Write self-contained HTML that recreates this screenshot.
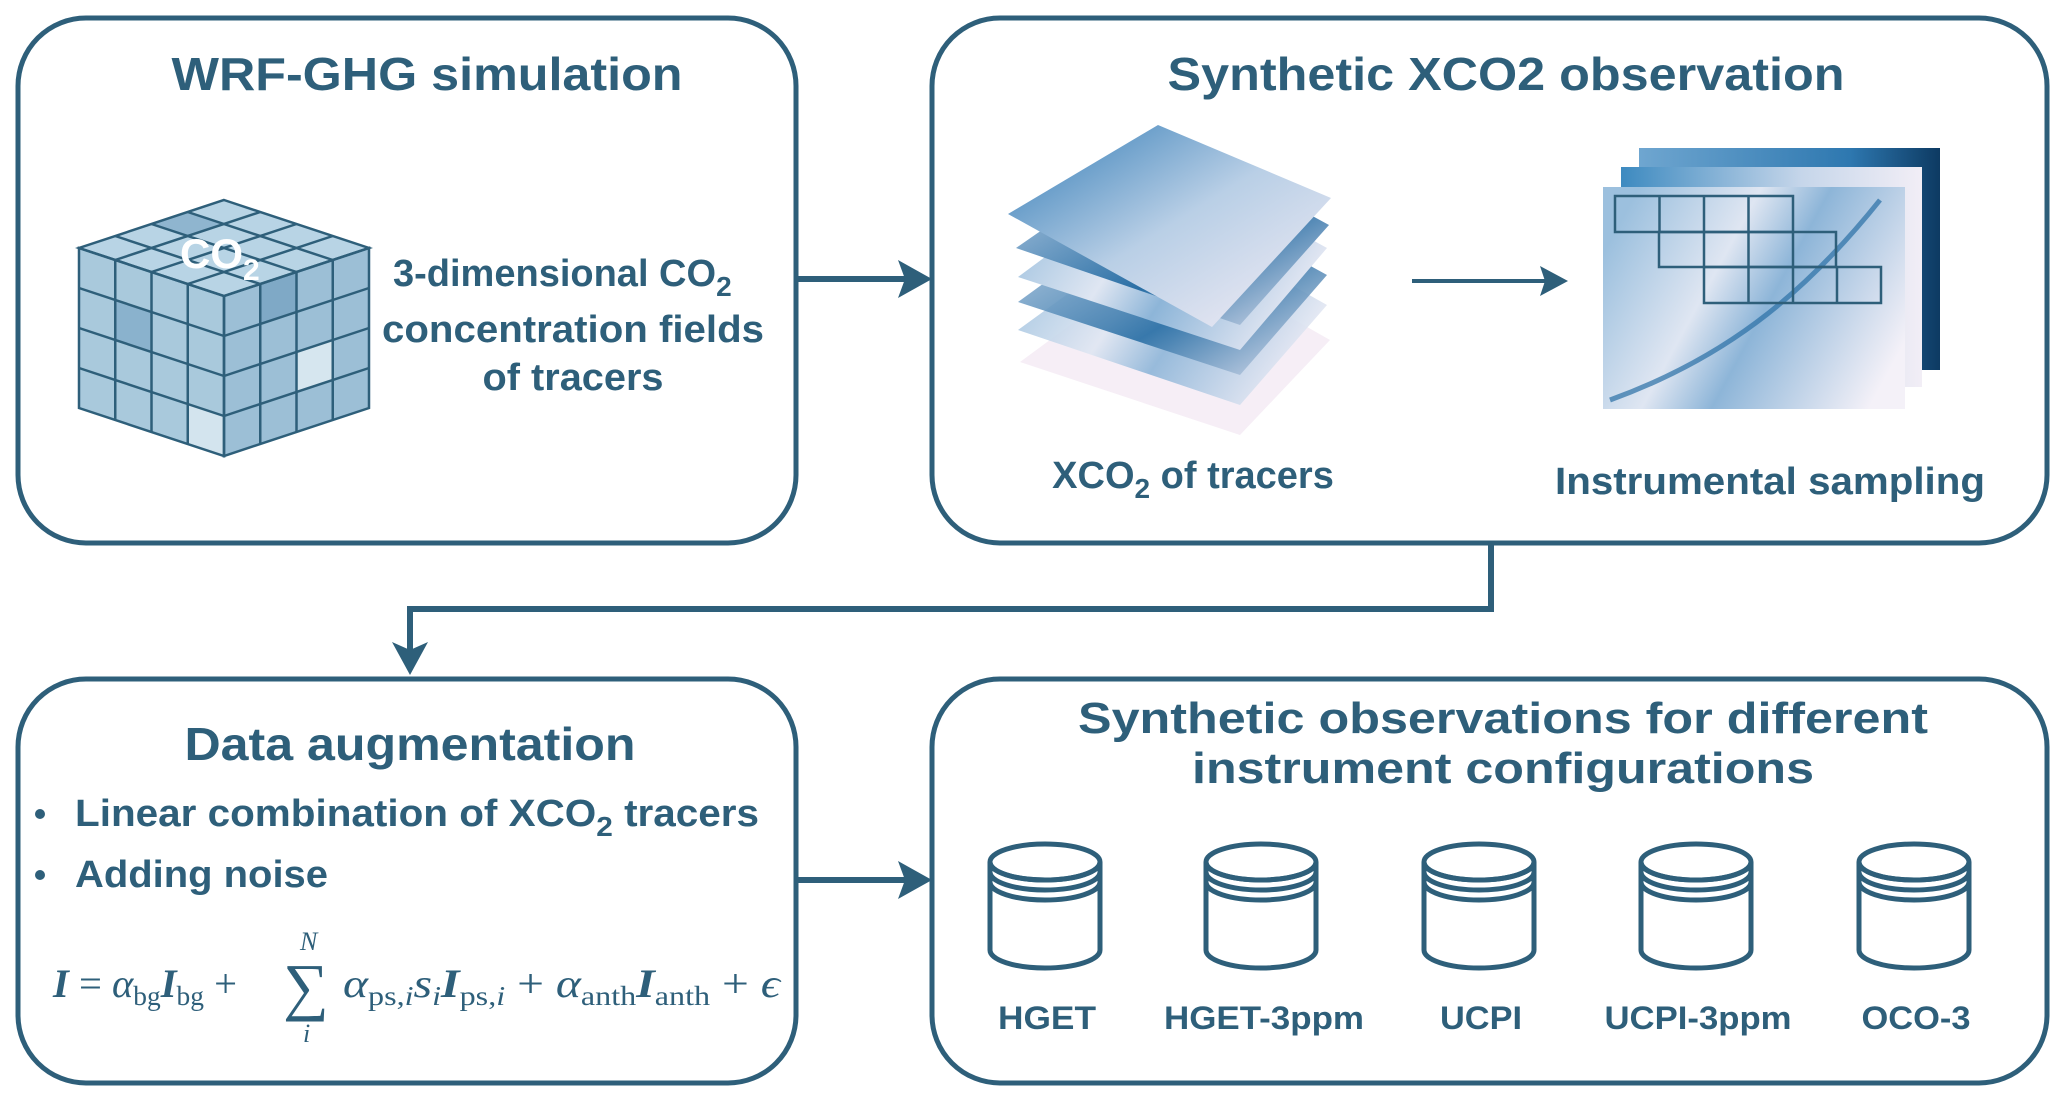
<!DOCTYPE html>
<html><head><meta charset="utf-8"><style>
html,body{margin:0;padding:0;background:#fff;}
svg{display:block;}
text{font-family:"Liberation Sans",sans-serif;font-weight:bold;fill:#2e5f7a;}
.m{font-family:"Liberation Serif",serif;font-weight:normal;fill:#2e5f7a;}
</style></head><body>
<svg width="2067" height="1103" viewBox="0 0 2067 1103" xmlns="http://www.w3.org/2000/svg">
<defs>
<linearGradient id="g1" x1="0" y1="0" x2="1" y2="1"><stop offset="0" stop-color="#2f7ab5"/><stop offset="0.5" stop-color="#b9cfe6"/><stop offset="1" stop-color="#f5eef6"/></linearGradient>
<linearGradient id="g2" x1="0" y1="0" x2="1" y2="1"><stop offset="0" stop-color="#c9d9ec"/><stop offset="0.6" stop-color="#2a6fa5"/><stop offset="1" stop-color="#e8e6f2"/></linearGradient>
<linearGradient id="g3" x1="0" y1="0" x2="1" y2="0"><stop offset="0" stop-color="#6fa6d0"/><stop offset="0.7" stop-color="#2e78b0"/><stop offset="1" stop-color="#0d3a62"/></linearGradient>
<linearGradient id="g4" x1="0" y1="0" x2="1" y2="0"><stop offset="0" stop-color="#3d8ac0"/><stop offset="0.6" stop-color="#c6d6ea"/><stop offset="1" stop-color="#f2eef6"/></linearGradient>
<linearGradient id="g5" x1="0" y1="0.3" x2="1" y2="0.7"><stop offset="0" stop-color="#9cc0de"/><stop offset="0.35" stop-color="#dfe6f2"/><stop offset="0.55" stop-color="#8db5d8"/><stop offset="1" stop-color="#f4f1f8"/></linearGradient>
</defs>
<g fill="none" stroke="#2e5f7a" stroke-width="5">
<rect x="18" y="18" width="778" height="525" rx="68"/>
<rect x="932" y="18" width="1115" height="525" rx="68"/>
<rect x="18" y="679" width="778" height="404" rx="68"/>
<rect x="932" y="679" width="1115" height="404" rx="68"/>
<line x1="796" y1="279" x2="905" y2="279" stroke-width="6"/>
<polyline points="1491,543 1491,609 410,609 410,650" stroke-width="6"/>
<line x1="796" y1="880" x2="905" y2="880" stroke-width="6"/>
<line x1="1412" y1="281" x2="1545" y2="281" stroke-width="4"/>
</g>
<g fill="#2e5f7a">
<polygon points="932,279 898,260 905,279 898,298"/>
<polygon points="410,675 392,642 410,650 428,642"/>
<polygon points="932,880 898,861 905,880 898,899"/>
<polygon points="1568,281 1540,266 1545,281 1540,296"/>
</g>
<text x="427" y="90" font-size="46" text-anchor="middle" textLength="511" lengthAdjust="spacingAndGlyphs">WRF-GHG simulation</text>
<text x="1506" y="90" font-size="46" text-anchor="middle" textLength="677" lengthAdjust="spacingAndGlyphs">Synthetic XCO2 observation</text>
<!-- cube -->
<polygon points="79,248 224,296 224,456 79,408" fill="#a9c9dc"/>
<polygon points="224,296 369,248 369,408 224,456" fill="#9cbfd6"/>
<polygon points="224,200 369,248 224,296 79,248" fill="#b8d4e5"/>
<polygon points="115,300 151,312 151,352 115,340" fill="#8ab2cd"/>
<polygon points="188,404 224,416 224,456 188,444" fill="#d3e4ee"/>
<polygon points="260,284 296,272 296,312 260,324" fill="#7fa9c6"/>
<polygon points="296,352 333,340 333,380 296,392" fill="#d6e6ef"/>
<polygon points="151,224 188,212 224,224 188,236" fill="#8fb5cf"/>
<g stroke="#2e5f7a" stroke-width="2.5" fill="none">
<polygon points="224,200 369,248 224,296 79,248"/>
<polygon points="79,248 224,296 224,456 79,408"/>
<polygon points="224,296 369,248 369,408 224,456"/>
<line x1="260.25" y1="212" x2="115.25" y2="260"/><line x1="187.75" y1="212" x2="332.75" y2="260"/>
<line x1="296.5" y1="224" x2="151.5" y2="272"/><line x1="151.5" y1="224" x2="296.5" y2="272"/>
<line x1="332.75" y1="236" x2="187.75" y2="284"/><line x1="115.25" y1="236" x2="260.25" y2="284"/>
<line x1="115.25" y1="260" x2="115.25" y2="420"/><line x1="151.5" y1="272" x2="151.5" y2="432"/><line x1="187.75" y1="284" x2="187.75" y2="444"/>
<line x1="79" y1="288" x2="224" y2="336"/><line x1="79" y1="328" x2="224" y2="376"/><line x1="79" y1="368" x2="224" y2="416"/>
<line x1="260.25" y1="284" x2="260.25" y2="444"/><line x1="296.5" y1="272" x2="296.5" y2="432"/><line x1="332.75" y1="260" x2="332.75" y2="420"/>
<line x1="224" y1="336" x2="369" y2="288"/><line x1="224" y1="376" x2="369" y2="328"/><line x1="224" y1="416" x2="369" y2="368"/>
</g>
<text x="180" y="268" font-size="42" style="fill:#fff">CO<tspan font-size="30" dy="12">2</tspan></text>
<text x="393" y="286" font-size="38">3-dimensional CO<tspan font-size="28" dy="10">2</tspan></text>
<text x="573" y="342" font-size="38" text-anchor="middle" textLength="382" lengthAdjust="spacingAndGlyphs">concentration fields</text>
<text x="573" y="390" font-size="38" text-anchor="middle" textLength="181" lengthAdjust="spacingAndGlyphs">of tracers</text>
<!-- layers -->
<polygon points="1172,250 1330,340 1240,435 1020,362" fill="#f6eef6"/>
<polygon points="1172,218 1327,305 1240,405 1018,330" fill="url(#g5)" opacity="0.9"/>
<polygon points="1172,190 1327,275 1240,375 1018,302" fill="url(#g2)" opacity="0.9"/>
<polygon points="1172,163 1327,248 1240,350 1018,277" fill="url(#g5)"/>
<polygon points="1172,140 1329,225 1240,325 1016,248" fill="url(#g2)"/>
<polygon points="1158,125 1331,198 1212,327 1008,214" fill="url(#g1)"/>
<text x="1193" y="488" font-size="38" text-anchor="middle">XCO<tspan font-size="28" dy="10">2</tspan><tspan dy="-10"> of tracers</tspan></text>
<!-- sampling frames -->
<rect x="1639" y="148" width="301" height="222" fill="url(#g3)"/>
<rect x="1621" y="167" width="301" height="220" fill="url(#g4)"/>
<rect x="1603" y="187" width="302" height="222" fill="url(#g5)"/>
<path d="M1610,400 C1720,360 1800,300 1880,200" stroke="#2a6fa5" stroke-width="5" fill="none" opacity="0.7"/>
<g stroke="#2e5f7a" stroke-width="2.5" fill="none">
<rect x="1615" y="196" width="178" height="36"/>
<line x1="1659.5" y1="196" x2="1659.5" y2="232"/><line x1="1704" y1="196" x2="1704" y2="232"/><line x1="1748.5" y1="196" x2="1748.5" y2="232"/>
<rect x="1659" y="232" width="177" height="35"/>
<line x1="1704" y1="232" x2="1704" y2="267"/><line x1="1748.5" y1="232" x2="1748.5" y2="267"/><line x1="1793" y1="232" x2="1793" y2="267"/>
<rect x="1704" y="267" width="177" height="36"/>
<line x1="1748.5" y1="267" x2="1748.5" y2="303"/><line x1="1793" y1="267" x2="1793" y2="303"/><line x1="1837" y1="267" x2="1837" y2="303"/>
</g>
<text x="1770" y="494" font-size="38" text-anchor="middle" textLength="430" lengthAdjust="spacingAndGlyphs">Instrumental sampling</text>
<!-- data augmentation -->
<text x="410" y="760" font-size="46" text-anchor="middle" textLength="451" lengthAdjust="spacingAndGlyphs">Data augmentation</text>
<circle cx="40" cy="814" r="5" fill="#2e5f7a"/><circle cx="40" cy="875" r="5" fill="#2e5f7a"/>
<text x="75" y="826" font-size="38" textLength="684" lengthAdjust="spacingAndGlyphs">Linear combination of XCO<tspan font-size="28" dy="10">2</tspan><tspan dy="-10"> tracers</tspan></text>
<text x="75" y="887" font-size="38" textLength="253" lengthAdjust="spacingAndGlyphs">Adding noise</text>
<text class="m" x="53" y="997" font-size="40" textLength="184" lengthAdjust="spacingAndGlyphs"><tspan font-style="italic" font-weight="bold">I</tspan> = <tspan font-style="italic">α</tspan><tspan font-size="27" dy="8">bg</tspan><tspan dy="-8" font-style="italic" font-weight="bold">I</tspan><tspan font-size="27" dy="8">bg</tspan><tspan dy="-8"> +</tspan></text>
<text class="m" x="283" y="1008" font-size="64">∑</text>
<text class="m" x="300" y="950" font-size="26" font-style="italic">N</text>
<text class="m" x="303" y="1042" font-size="26" font-style="italic">i</text>
<text class="m" x="343" y="997" font-size="40" textLength="437" lengthAdjust="spacingAndGlyphs"><tspan font-style="italic">α</tspan><tspan font-size="27" dy="8">ps,<tspan font-style="italic">i</tspan></tspan><tspan dy="-8" font-style="italic">s</tspan><tspan font-size="27" dy="8" font-style="italic">i</tspan><tspan dy="-8" font-style="italic" font-weight="bold">I</tspan><tspan font-size="27" dy="8">ps,<tspan font-style="italic">i</tspan></tspan><tspan dy="-8"> + </tspan><tspan font-style="italic">α</tspan><tspan font-size="27" dy="8">anth</tspan><tspan dy="-8" font-style="italic" font-weight="bold">I</tspan><tspan font-size="27" dy="8">anth</tspan><tspan dy="-8"> + </tspan><tspan font-style="italic">ϵ</tspan></text>
<!-- synthetic observations -->
<text x="1503" y="733" font-size="44" text-anchor="middle" textLength="850" lengthAdjust="spacingAndGlyphs">Synthetic observations for different</text>
<text x="1503" y="783" font-size="44" text-anchor="middle" textLength="622" lengthAdjust="spacingAndGlyphs">instrument configurations</text>
<g fill="#fff" stroke="#2e5f7a" stroke-width="5">
<g id="cyl">
<path d="M990,862 V950 A55,18 0 0 0 1100,950 V862"/>
<ellipse cx="1045" cy="862" rx="55" ry="18"/>
<path d="M990,862 A55,18 0 0 0 1100,862" fill="none"/>
<path d="M990,872 A55,18 0 0 0 1100,872" fill="none"/>
<path d="M990,882 A55,18 0 0 0 1100,882" fill="none"/>
</g>
<use href="#cyl" x="216"/>
<use href="#cyl" x="434"/>
<use href="#cyl" x="651"/>
<use href="#cyl" x="869"/>
</g>
<g font-size="32" text-anchor="middle">
<text x="1047" y="1029" textLength="98" lengthAdjust="spacingAndGlyphs">HGET</text>
<text x="1264" y="1029" textLength="200" lengthAdjust="spacingAndGlyphs">HGET-3ppm</text>
<text x="1481" y="1029" textLength="82" lengthAdjust="spacingAndGlyphs">UCPI</text>
<text x="1698" y="1029" textLength="187" lengthAdjust="spacingAndGlyphs">UCPI-3ppm</text>
<text x="1916" y="1029" textLength="109" lengthAdjust="spacingAndGlyphs">OCO-3</text>
</g>
</svg>
</body></html>
